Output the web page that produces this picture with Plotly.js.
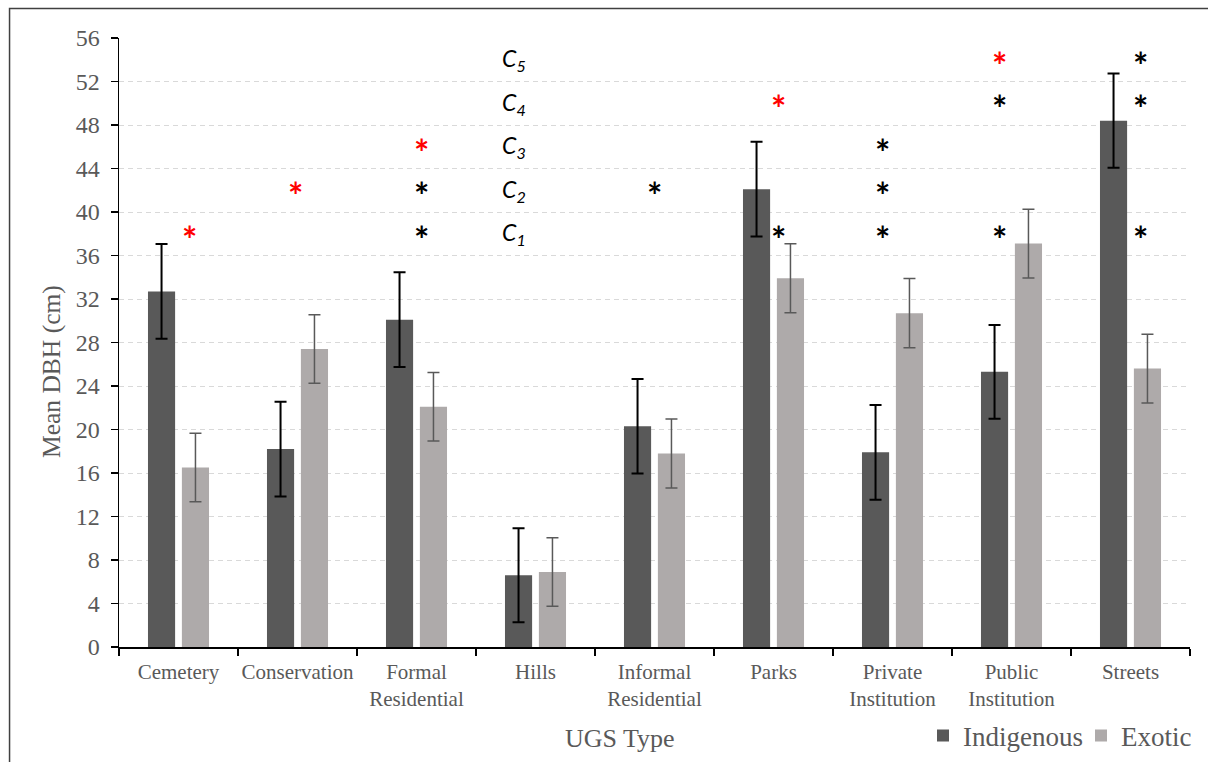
<!DOCTYPE html>
<html>
<head>
<meta charset="utf-8">
<script src="https://cdn.plot.ly/plotly-3.0.1.min.js"></script>
<style>
  html, body { margin: 0; padding: 0; background: #ffffff; }
  #chart { width: 1208px; height: 762px; }
</style>
</head>
<body>
<div id="chart"></div>
<script>
// ---- data ----
const categories = ['Cemetery', 'Conservation', 'Formal<br>Residential', 'Hills',
  'Informal<br>Residential', 'Parks', 'Private<br>Institution', 'Public<br>Institution', 'Streets'];
const indigenous    = [32.7, 18.2, 30.1, 6.6, 20.3, 42.1, 17.9, 25.3, 48.4];
const indigenousErr = [4.35, 4.35, 4.35, 4.33, 4.34, 4.35, 4.36, 4.32, 4.34];
const exotic        = [16.5, 27.4, 22.1, 6.9, 17.8, 33.9, 30.7, 37.1, 25.6];
const exoticErr     = [3.15, 3.15, 3.15, 3.15, 3.17, 3.17, 3.18, 3.16, 3.16];
const seriesNames   = ['Indigenous', 'Exotic'];
const xTitle = 'UGS Type';
const yTitle = 'Mean DBH (cm)';

// comparison labels C1..C5 and significance marks (category index, comparison level, red = highlighted)
const levelNames  = ['C1', 'C2', 'C3', 'C4', 'C5'];
const sigCategory = [0, 1, 2, 2, 2, 4, 5, 5, 6, 6, 6, 7, 7, 7, 8, 8, 8];
const sigLevel    = [1, 2, 1, 2, 3, 2, 1, 4, 1, 2, 3, 1, 4, 5, 1, 4, 5];
const sigRed      = [1, 1, 0, 0, 1, 0, 0, 1, 0, 0, 0, 0, 0, 1, 0, 0, 0];

// ---- layout-only constants ----
const levelY  = [38, 42, 46, 50, 54];                 // y position of each comparison row
const sigDx   = [0.09, -0.02, 0.04, 0, 0.0, 0.04, -0.08, -0.1, 0.08]; // per-category x nudge
const serif = '"Liberation Serif", "Times New Roman", serif';
const gray = '#595959';

const traces = [
  {
    type: 'bar', name: seriesNames[0], x: categories, y: indigenous,
    marker: { color: '#595959' },
    error_y: { type: 'data', array: indigenousErr, visible: true, color: '#000000', thickness: 2, width: 6 },
    hoverinfo: 'y'
  },
  {
    type: 'bar', name: seriesNames[1], x: categories, y: exotic,
    marker: { color: '#AEAAAA' },
    error_y: { type: 'data', array: exoticErr, visible: true, color: '#595959', thickness: 1.5, width: 6 },
    hoverinfo: 'y'
  }
];

const annotations = [];
levelNames.forEach((name, i) => {
  annotations.push({
    xref: 'x', yref: 'y', x: 3 - 0.3, y: levelY[i], xanchor: 'left', yanchor: 'middle',
    text: '<i>' + name.charAt(0) + '</i><sub><i>' + name.slice(1) + '</i></sub>',
    showarrow: false, font: { family: 'Lato, "Open Sans", sans-serif', size: 23, color: '#000000' }
  });
});
sigCategory.forEach((c, k) => {
  annotations.push({
    xref: 'x', yref: 'y', x: c + sigDx[c], y: levelY[sigLevel[k] - 1],
    xanchor: 'center', yanchor: 'middle', yshift: -5,
    text: '<b>*</b>', showarrow: false,
    font: { family: 'Lato, "Open Sans", sans-serif', size: 36, color: sigRed[k] ? '#FF0000' : '#000000' }
  });
});
// axis titles (placed as in the reference, slightly off-centre)
annotations.push({
  xref: 'paper', yref: 'paper', x: (620 - 119) / 1071, y: (647 - 738) / 609,
  xanchor: 'center', yanchor: 'middle', showarrow: false, text: xTitle,
  font: { family: serif, size: 26, color: gray }
});
annotations.push({
  xref: 'paper', yref: 'paper', x: (51 - 119) / 1071, y: (647 - 372) / 609,
  xanchor: 'center', yanchor: 'middle', showarrow: false, text: yTitle, textangle: -90,
  font: { family: serif, size: 25.5, color: gray }
});

const layout = {
  width: 1208, height: 762,
  margin: { l: 119, r: 18, t: 38, b: 115, autoexpand: false },
  paper_bgcolor: '#ffffff', plot_bgcolor: '#ffffff',
  barmode: 'group', bargap: 0.43, bargroupgap: 0.2,
  font: { family: serif, color: gray },
  xaxis: {
    type: 'category', automargin: false, tickangle: 0,
    showline: true, linecolor: '#000000', linewidth: 1.5,
    ticks: 'outside', tickson: 'boundaries', ticklen: 7, tickcolor: '#000000', tickwidth: 1.5,
    ticklabelstandoff: 5,
    showgrid: false, zeroline: false,
    tickfont: { family: serif, size: 21, color: gray }
  },
  yaxis: {
    range: [0, 56], dtick: 4, tick0: 0, automargin: false,
    showline: true, linecolor: '#000000', linewidth: 1.5,
    ticks: 'outside', ticklen: 7, tickcolor: '#000000', tickwidth: 1.5,
    ticklabelstandoff: 6,
    showgrid: true, gridcolor: '#D9D9D9', gridwidth: 1, griddash: '5px,4px',
    zeroline: false,
    tickfont: { family: serif, size: 24, color: gray }
  },
  showlegend: true,
  legend: {
    orientation: 'h', x: (923 - 119) / 1071, xanchor: 'left', y: -0.146, yanchor: 'middle',
    font: { family: serif, size: 27, color: gray }, itemwidth: 30, traceorder: 'normal',
    entrywidth: 113, entrywidthmode: 'pixels',
    bgcolor: 'rgba(0,0,0,0)'
  },
  annotations: annotations,
  shapes: [{
    type: 'rect', xref: 'paper', yref: 'paper',
    x0: -0.1022, x1: 1.2, y0: -0.4, y1: 1.0484,
    line: { color: '#404040', width: 1.5 }, fillcolor: 'rgba(0,0,0,0)', layer: 'below'
  }]
};

Plotly.newPlot('chart', traces, layout, { displayModeBar: false, staticPlot: true });
</script>
</body>
</html>
